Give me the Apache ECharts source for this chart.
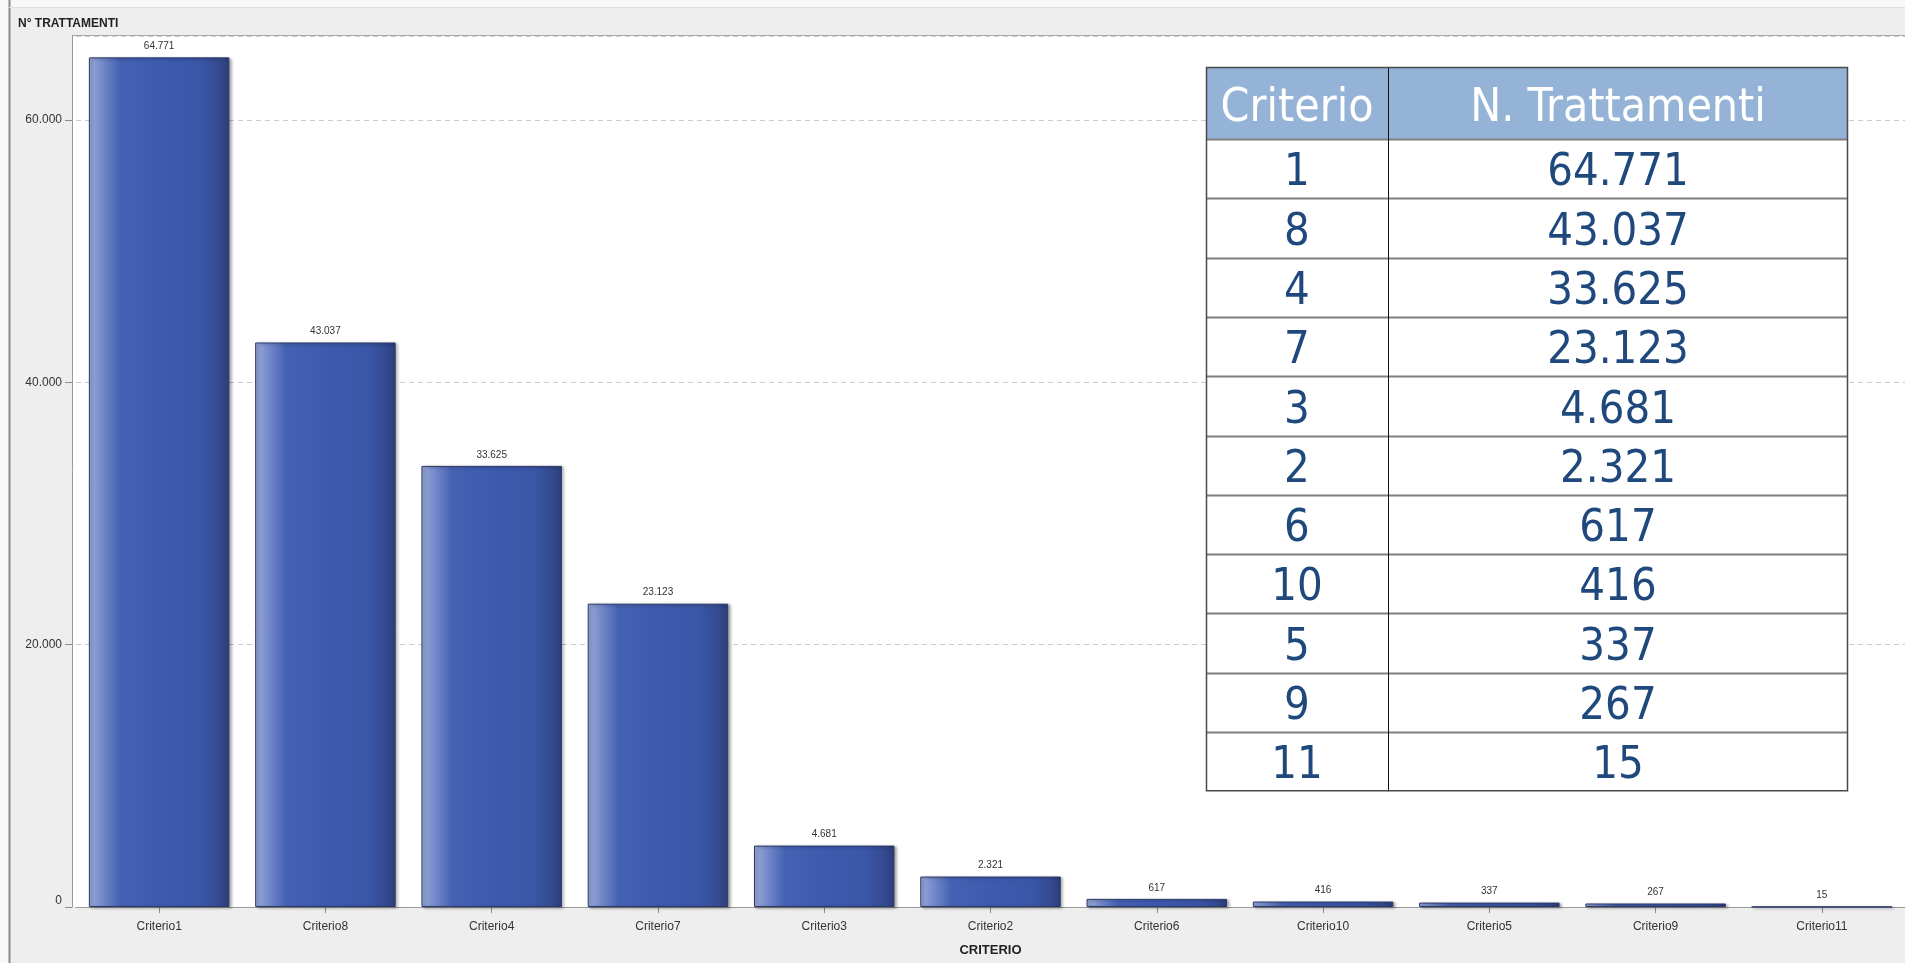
<!DOCTYPE html>
<html>
<head>
<meta charset="utf-8">
<script src="https://cdn.jsdelivr.net/npm/echarts@6/dist/echarts.min.js"></script>
<style>
html,body{margin:0;padding:0;background:#eeeeee;overflow:hidden;}
#chart{position:absolute;left:0;top:0;width:1905px;height:963px;}
</style>
</head>
<body>
<div id="chart"></div>
<script>
// ---- data ----
var criterionIds = [1, 8, 4, 7, 3, 2, 6, 10, 5, 9, 11];
var values = [64771, 43037, 33625, 23123, 4681, 2321, 617, 416, 337, 267, 15];
var yTicks = [0, 20000, 40000, 60000];
var tableHeader = ['Criterio', 'N. Trattamenti'];
var yTitle = 'N° TRATTAMENTI';
var xTitle = 'CRITERIO';

var categories = criterionIds.map(function (id) { return 'Criterio' + id; });
function fmt(v) { return String(v).replace(/\B(?=(\d{3})+(?!\d))/g, '.'); }

var chart = echarts.init(document.getElementById('chart'), null, {renderer: 'canvas', width: 1905, height: 963});

var labelFont = '"Liberation Sans", Arial, sans-serif';
var tblFont = '"DejaVu Sans Condensed", "DejaVu Sans", sans-serif';

// layout
var plotL = 72, plotT = 36, plotH = 871;
// table geometry
var tx0 = 1206, tx1 = 1388, tx2 = 1848, ty0 = 67, tyH = 139, rowH = 59.3;
var nRows = criterionIds.length;
var tyEnd = tyH + rowH * nRows;

var graphics = [];
// page / panel background
graphics.push({type: 'rect', z: -12, shape: {x: 0, y: 0, width: 1905, height: 963}, style: {fill: '#f8f8f8'}, silent: true});
graphics.push({type: 'rect', z: -11, shape: {x: 9, y: 7, width: 1900, height: 960}, style: {fill: '#eeeeee'}, silent: true});
graphics.push({type: 'line', z: -9, shape: {x1: 9.5, y1: 0, x2: 9.5, y2: 963}, style: {stroke: '#8a8a8a', lineWidth: 2}, silent: true});
graphics.push({type: 'line', z: -9, shape: {x1: 9, y1: 7.5, x2: 1905, y2: 7.5}, style: {stroke: '#dddddd', lineWidth: 1}, silent: true});
// plot background
graphics.push({type: 'rect', z: -8, shape: {x: plotL, y: plotT, width: 1905 - plotL + 5, height: plotH}, style: {fill: '#ffffff'}, silent: true});
graphics.push({type: 'line', z: -7, shape: {x1: plotL, y1: plotT - 0.5, x2: 1905, y2: plotT - 0.5}, style: {stroke: '#a8a8a8', lineWidth: 1}, silent: true});
graphics.push({type: 'text', z: 5, style: {text: yTitle, x: 18, y: 24, fill: '#222', font: 'bold 12px ' + labelFont, textVerticalAlign: 'middle', verticalAlign: 'middle'}});

// table
graphics.push({type: 'rect', z: 20, shape: {x: tx0, y: ty0, width: tx2 - tx0, height: tyEnd - ty0}, style: {fill: '#ffffff', stroke: null}});
graphics.push({type: 'rect', z: 21, shape: {x: tx0, y: ty0, width: tx2 - tx0, height: tyH - ty0}, style: {fill: '#95b3d7'}});
for (var r = 1; r < nRows; r++) {
  var yy = Math.round(tyH + rowH * r) + 0.5;
  graphics.push({type: 'line', z: 22, shape: {x1: tx0, y1: yy, x2: tx2, y2: yy}, style: {stroke: '#7f7f7f', lineWidth: 2}});
}
graphics.push({type: 'line', z: 22, shape: {x1: tx0, y1: tyH + 0.5, x2: tx2, y2: tyH + 0.5}, style: {stroke: '#7f7f7f', lineWidth: 2}});
graphics.push({type: 'line', z: 23, shape: {x1: tx1 + 0.5, y1: ty0, x2: tx1 + 0.5, y2: tyEnd}, style: {stroke: '#111111', lineWidth: 1}});
graphics.push({type: 'rect', z: 23, shape: {x: tx0 + 0.5, y: ty0 + 0.5, width: tx2 - tx0 - 1, height: tyEnd - ty0 - 1}, style: {fill: null, stroke: '#4a4a4a', lineWidth: 1.5}});
graphics.push({type: 'text', z: 24, style: {text: tableHeader[0], x: (tx0 + tx1) / 2, y: (ty0 + tyH) / 2 + 6, fill: '#ffffff', font: '46px ' + tblFont, textAlign: 'center', textVerticalAlign: 'middle', align: 'center', verticalAlign: 'middle'}});
graphics.push({type: 'text', z: 24, style: {text: tableHeader[1], x: (tx1 + tx2) / 2, y: (ty0 + tyH) / 2 + 6, fill: '#ffffff', font: '46px ' + tblFont, textAlign: 'center', textVerticalAlign: 'middle', align: 'center', verticalAlign: 'middle'}});
for (var i = 0; i < nRows; i++) {
  var cy = tyH + rowH * (i + 0.5) + 5;
  graphics.push({type: 'text', z: 24, style: {text: String(criterionIds[i]), x: (tx0 + tx1) / 2, y: cy, fill: '#1f497d', font: '45px ' + tblFont, textAlign: 'center', textVerticalAlign: 'middle', align: 'center', verticalAlign: 'middle'}});
  graphics.push({type: 'text', z: 24, style: {text: fmt(values[i]), x: (tx1 + tx2) / 2, y: cy, fill: '#1f497d', font: '45px ' + tblFont, textAlign: 'center', textVerticalAlign: 'middle', align: 'center', verticalAlign: 'middle'}});
}

var option = {
  animation: false,
  backgroundColor: 'transparent',
  graphic: graphics,
  grid: {left: 76, top: plotT, width: 1829, height: plotH, show: false, containLabel: false},
  xAxis: {
    type: 'category',
    data: categories,
    name: xTitle,
    nameLocation: 'middle',
    nameGap: 37,
    nameTextStyle: {fontFamily: labelFont, fontWeight: 'bold', fontSize: 13, color: '#222'},
    axisLine: {lineStyle: {color: '#999999', width: 1}},
    axisTick: {show: true, alignWithLabel: true, length: 6, lineStyle: {color: '#8c8c8c'}},
    axisLabel: {fontFamily: labelFont, fontSize: 12, color: '#333', margin: 14}
  },
  yAxis: {
    type: 'value',
    min: 0,
    max: 66400,
    interval: 20000,
    offset: 4,
    axisLine: {show: true, lineStyle: {color: '#999999'}},
    axisTick: {show: true, length: 7, lineStyle: {color: '#8c8c8c'}},
    axisLabel: {
      fontFamily: labelFont, fontSize: 12, color: '#333', margin: 10, showMaxLabel: false,
      formatter: function (v) {
        if (yTicks.indexOf(v) < 0) return '';
        return v === 0 ? '{z|0}' : fmt(v);
      },
      rich: {z: {fontFamily: labelFont, fontSize: 12, color: '#333', padding: [0, 0, 13, 0]}}
    },
    splitLine: {show: true, lineStyle: {color: '#cccccc', type: [5, 4], width: 1}}
  },
  series: [{
    type: 'bar',
    data: values,
    barCategoryGap: '15.5%',
    itemStyle: {
      color: new echarts.graphic.LinearGradient(0, 0, 1, 0, [
        {offset: 0, color: '#9aaad9'},
        {offset: 0.1, color: '#7388c9'},
        {offset: 0.22, color: '#4561b3'},
        {offset: 0.5, color: '#3d5aae'},
        {offset: 0.8, color: '#3a56a7'},
        {offset: 0.93, color: '#344a90'},
        {offset: 1, color: '#2c3d78'}
      ]),
      borderColor: '#2b3a6c',
      borderWidth: 1,
      shadowColor: 'rgba(0,0,0,0.35)',
      shadowBlur: 3,
      shadowOffsetX: 2,
      shadowOffsetY: 1
    },
    label: {
      show: true,
      position: 'top',
      distance: 6,
      fontFamily: labelFont,
      fontSize: 10,
      color: '#333',
      formatter: function (p) { return fmt(p.value); }
    }
  }]
};
chart.setOption(option);
</script>
</body>
</html>
